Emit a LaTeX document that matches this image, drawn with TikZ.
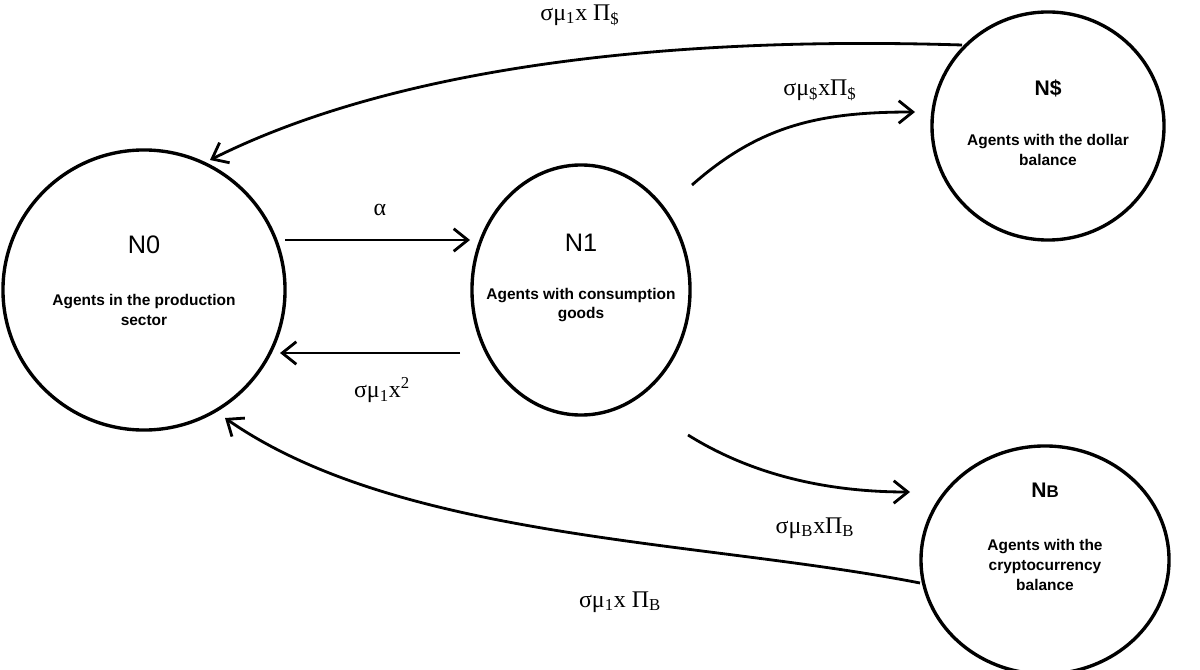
\documentclass[tikz,border=0pt]{standalone}
\usepackage{fontspec}
\setmainfont{Liberation Serif}
\newfontfamily\sansf{Liberation Sans}
\usetikzlibrary{shapes.geometric,arrows.meta}
\begin{document}
\begin{tikzpicture}[x=0.025cm,y=-0.025cm,
  st/.style={draw,line width=2.4pt,ellipse,inner sep=0pt},
  ar/.style={line width=2pt,-{Straight Barb[length=10pt,width=16pt]}},
  lb/.style={font=\fontsize{17}{20}\selectfont},
  nt/.style={font=\sansf\bfseries\fontsize{11}{14}\selectfont,align=center}]
\useasboundingbox (0,0) rectangle (1200,669);
\node[st,minimum width=7.05cm,minimum height=7.0cm] (n0) at (144,290) {};
\node[st,minimum width=5.45cm,minimum height=6.25cm] (n1) at (581,290) {};
\node[st,minimum width=5.8cm,minimum height=5.7cm] (nd) at (1048,126) {};
\node[st,minimum width=6.2cm,minimum height=5.7cm] (nb) at (1045,560) {};
\node[nt,font=\sansf\fontsize{18}{20}\selectfont] (t0) at (144,245) {N0};
\node[nt] (s0) at (144,310) {Agents in the production\\sector};
\node[nt,font=\sansf\fontsize{18}{20}\selectfont] (t1) at (581,243) {N1};
\node[nt] (s1) at (581,305) {Agents with consumption\\goods};
\node[nt,font=\sansf\bfseries\fontsize{15}{18}\selectfont] (td) at (1048,88) {N\$};
\node[nt] (sd) at (1048,150) {Agents with the dollar\\balance};
\node[nt,font=\sansf\bfseries\fontsize{15}{18}\selectfont] (tb) at (1045,490) {N{\fontsize{12}{14}\selectfont B}};
\node[nt] (sb) at (1045,565) {Agents with the\\cryptocurrency\\balance};
\coordinate (a1) at (285,240); \coordinate (a2) at (470,240);
\coordinate (b1) at (460,353); \coordinate (b2) at (280,353);
\coordinate (c1) at (962,45); \coordinate (c2) at (210,160);
\coordinate (d1) at (692,185); \coordinate (d2) at (915,112);
\coordinate (e1) at (688,435); \coordinate (e2) at (910,492);
\coordinate (f1) at (920,583); \coordinate (f2) at (225,418);
\draw[ar] (a1) -- (a2);
\draw[ar] (b1) -- (b2);
\draw[ar] (c1) .. controls (800,40) and (450,40) .. (c2);
\draw[ar] (d1) .. controls (760,125) and (820,112) .. (d2);
\draw[ar] (e1) .. controls (760,480) and (840,492) .. (e2);
\draw[ar] (f1) .. controls (700,540) and (400,540) .. (f2);
\node[lb] (la) at (380,210) {α};
\node[lb] (lb2) at (382,390) {σμ\textsubscript{1}x\textsuperscript{2}};
\node[lb] (lc) at (580,15) {σμ\textsubscript{1}x Π\textsubscript{\$}};
\node[lb] (ld) at (820,90) {σμ\textsubscript{\$}xΠ\textsubscript{\$}};
\node[lb] (le) at (815,528) {σμ\textsubscript{B}xΠ\textsubscript{B}};
\node[lb] (lf) at (620,602) {σμ\textsubscript{1}x Π\textsubscript{B}};
\end{tikzpicture}
\end{document}
